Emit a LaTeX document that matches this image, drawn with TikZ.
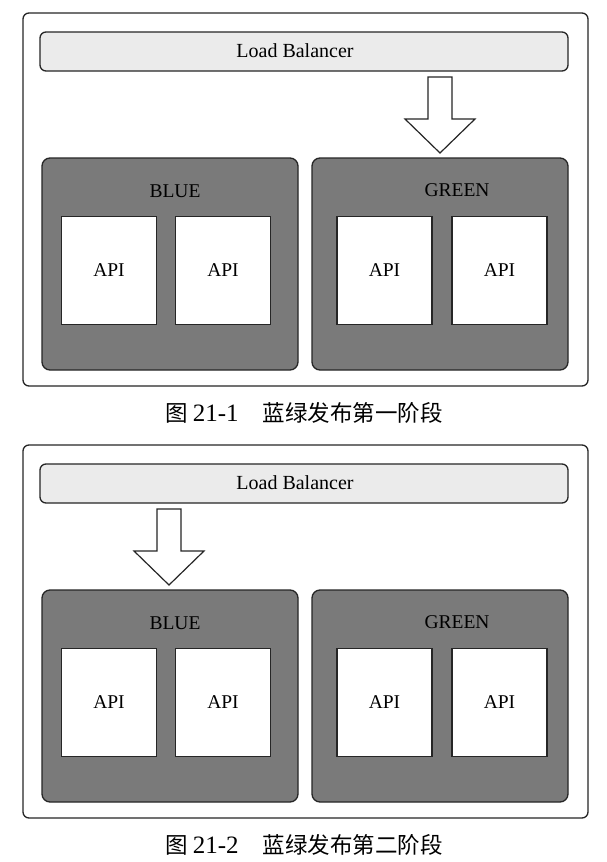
\documentclass[tikz,border=0pt]{standalone}
\usepackage{fontspec}
\setmainfont{Liberation Serif}
\newfontfamily\cjk{Noto Sans CJK SC}
\begin{document}
\begin{tikzpicture}[x=1pt,y=-1pt,
  outerframe/.style={draw=black!85, line width=1.3pt, rounded corners=6pt, fill=white, inner sep=0pt},
  lbbox/.style={draw=black!85, line width=1.3pt, rounded corners=6pt, fill=black!8, inner sep=0pt},
  lblabel/.style={font=\fontsize{20}{20}\selectfont, text=black, inner sep=0pt},
  group/.style={draw=black!85, line width=1.3pt, rounded corners=8pt, fill=black!52, inner sep=0pt},
  grouplabel/.style={font=\fontsize{19.5}{20}\selectfont, text=black, inner sep=0pt},
  apibox/.style={draw=black!85, line width=1.3pt, fill=white, inner sep=0pt,
    minimum width=95pt, minimum height=108pt, font=\fontsize{19.5}{20}\selectfont},
  blockarrow/.style={draw=black!85, line width=1.2pt, fill=white, line join=miter},
  caption/.style={font=\fontsize{22.5}{24}\selectfont, inner sep=0pt}]
\useasboundingbox (0,0) rectangle (606,862);
\newcommand\stagefig[4]{%
\begin{scope}[yshift=#1, name prefix=#3-]
  \node[outerframe, minimum width=565pt, minimum height=373pt] (frame) at (305.5,199.5) {};
  \node[lbbox, minimum width=528pt, minimum height=39pt] (lb) at (304,51.5) {};
  \node[lblabel] (lbtext) at (295,50.5) {Load Balancer};
  \node[group, minimum width=256pt, minimum height=212pt] (blue) at (170,264) {};
  \node[group, minimum width=256pt, minimum height=212pt] (green) at (440,264) {};
  \node[grouplabel] (bluelbl) at (175,191) {BLUE};
  \node[grouplabel] (greenlbl) at (457,190) {GREEN};
  \node[apibox] (b1) at (109,270.5) {API};
  \node[apibox] (b2) at (223,270.5) {API};
  \node[apibox] (g1) at (384.5,270.5) {API};
  \node[apibox] (g2) at (499.5,270.5) {API};
  \coordinate (arrowtop) at (#2,77);
  \coordinate (arrowtip) at (#2,153);
  \draw[blockarrow] (arrowtop) ++(-12,0) -- ++(24,0) -- ++(0,42) -- ++(23,0)
    -- (arrowtip) -- ++(-35,-34) -- ++(23,0) -- cycle;
  \node[caption] (cap) at (304,413) {#4};
\end{scope}}
\stagefig{0pt}{440}{s1}{{\cjk 图}\hspace{5pt}{\fontsize{25}{24}\selectfont 21-1}\hspace{24pt}{\cjk 蓝绿发布第一阶段}}
\stagefig{-432pt}{169}{s2}{{\cjk 图}\hspace{5pt}{\fontsize{25}{24}\selectfont 21-2}\hspace{24pt}{\cjk 蓝绿发布第二阶段}}
\end{tikzpicture}
\end{document}
